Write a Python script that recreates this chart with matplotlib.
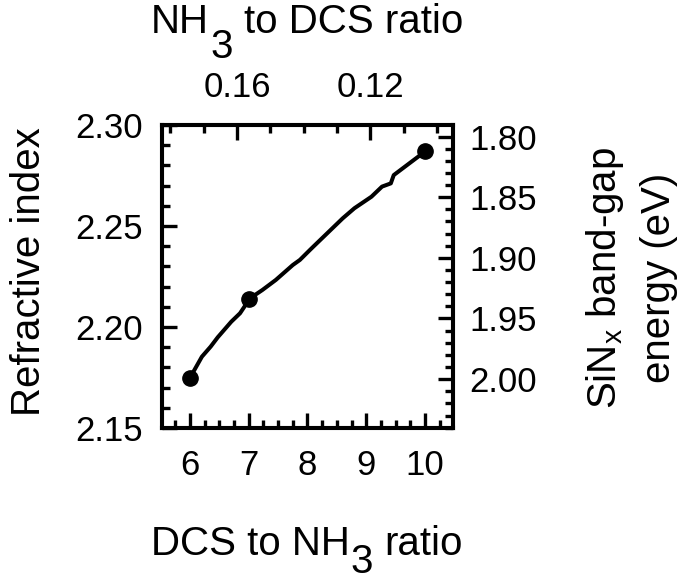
import matplotlib
matplotlib.use("Agg")
import matplotlib.pyplot as plt
import matplotlib.transforms as mtransforms
from matplotlib.ticker import MultipleLocator, FixedLocator

plt.rcParams['font.family'] = ['Liberation Sans', 'DejaVu Sans']
plt.rcParams['mathtext.default'] = 'regular'

# данные: измеренные точки
pts_x = [6, 7, 10]
pts_n = [2.175, 2.214, 2.287]
# сглаженная кривая (ломаная)
line_x = [6.00, 6.20, 6.35, 6.47, 6.70, 6.85, 7.02, 7.23, 7.46, 7.75, 7.87,
          8.04, 8.10, 8.60, 8.80, 9.09, 9.27, 9.42, 9.47, 10.0]
line_n = [2.175, 2.1853, 2.1903, 2.1949, 2.2026, 2.2068, 2.2142, 2.2183,
          2.2233, 2.2307, 2.2332, 2.2381, 2.2398, 2.2538, 2.2588, 2.2645,
          2.2695, 2.2711, 2.2752, 2.2868]

bottom_ticks = [6, 7, 8, 9, 10]
left_ticks = [2.15, 2.20, 2.25, 2.30]
top_ticks = [0.16, 0.12]
right_ticks = [1.80, 1.85, 1.90, 1.95, 2.00]

W, H = 688, 581
fig = plt.figure(figsize=(W / 100, H / 100), dpi=100)
ax = fig.add_axes([162 / W, 1 - 428 / H, (453 - 162) / W, (428 - 125) / H])

ax.plot(line_x, line_n, color='black', lw=2.9, zorder=3)
ax.plot(pts_x, pts_n, 'o', color='black', ms=11, zorder=4)

ax.set_xlim(5.52, 10.48)
ax.set_ylim(2.15, 2.30)
ax.xaxis.set_major_locator(FixedLocator(bottom_ticks))
ax.xaxis.set_minor_locator(MultipleLocator(0.25))
ax.yaxis.set_major_locator(FixedLocator(left_ticks))
ax.yaxis.set_minor_locator(MultipleLocator(0.01))
ax.set_xticklabels([str(t) for t in bottom_ticks])
ax.set_yticklabels(['%.2f' % t for t in left_ticks])

axt = ax.twiny()
axt.set_xlim(0.1825, 0.0952)
axt.xaxis.set_major_locator(FixedLocator(top_ticks))
axt.xaxis.set_minor_locator(MultipleLocator(0.01))
axt.set_xticklabels(['%.2f' % t for t in top_ticks])

axr = ax.twinx()
axr.set_ylim(2.0403, 1.7905)
axr.yaxis.set_major_locator(FixedLocator(right_ticks))
axr.yaxis.set_minor_locator(MultipleLocator(0.01))
axr.set_yticklabels(['%.2f' % t for t in right_ticks])

for a in (ax, axt, axr):
    for s in a.spines.values():
        s.set_linewidth(2.9)
    a.tick_params(which='major', direction='in', length=10.5, width=2.4,
                  labelsize=25, pad=14)
    a.tick_params(which='minor', direction='in', length=6, width=2.4)
ax.tick_params(axis='x', pad=15)
axt.tick_params(axis='x', pad=15)
axr.tick_params(axis='y', pad=12)

# подписи осей
fig.text(29 / W, 1 - 272 / H, 'Refractive index', rotation=90,
         fontsize=29, ha='center', va='center')
fig.text(631 / W, 1 - 278 / H, 'SiN$_x$ band-gap\nenergy (eV)', rotation=90,
         fontsize=29, ha='center', va='center', multialignment='center',
         linespacing=1.5)

px = mtransforms.IdentityTransform()
renderer = fig.canvas.get_renderer()


def chain_label(parts, cx, base):
    # parts: (текст, сдвиг вниз в px, зазор перед куском в px)
    items = []
    total = 0
    for s, dy, gap in parts:
        t = fig.text(0, 0, s, fontsize=29, ha='left', va='baseline',
                     transform=px)
        w = t.get_window_extent(renderer).width
        items.append((t, dy, gap, w))
        total += gap + w
    x = cx - total / 2
    for t, dy, gap, w in items:
        x += gap
        t.set_position((x, H - base - dy))
        x += w


chain_label([('DCS to NH', 0, 0), ('3', 18, 1), ('ratio', 0, 11)], 307, 555)
chain_label([('NH', 0, 0), ('3', 25, 1), ('to DCS ratio', 0, 11)], 307, 33)

fig.savefig('out.png', dpi=100)
